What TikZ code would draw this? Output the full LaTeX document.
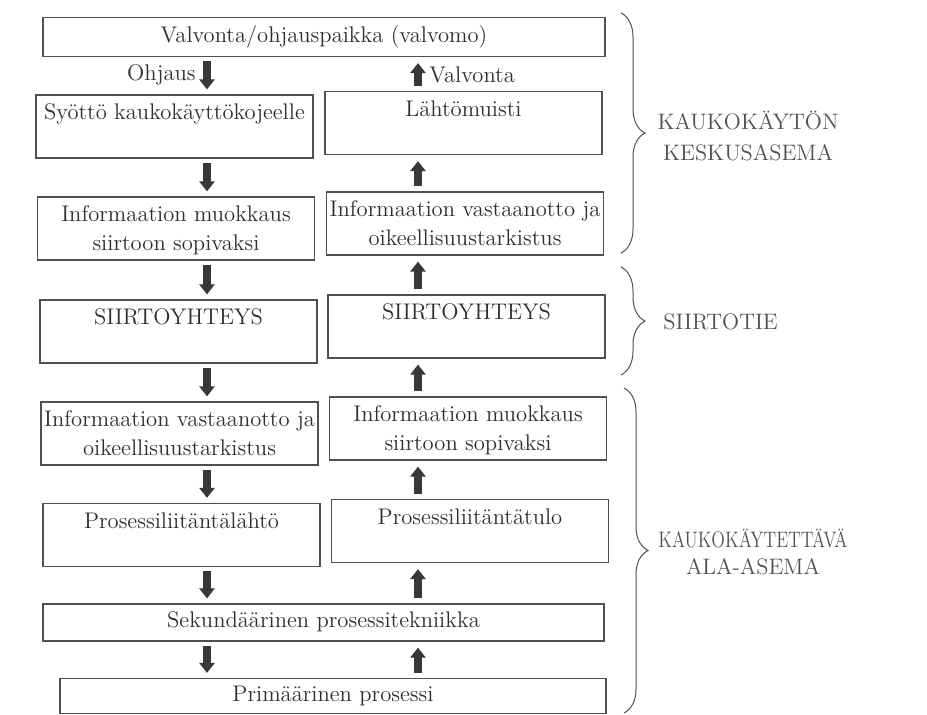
\documentclass[tikz,border=0pt]{standalone}
\usepackage{tikz}
\usepackage{graphicx}
\usetikzlibrary{arrows.meta,decorations.pathreplacing}
\definecolor{ink}{HTML}{2E2E2E}
\definecolor{frame}{HTML}{505050}
\definecolor{blockgray}{HTML}{383838}

\begin{document}
\begin{tikzpicture}[x=0.5pt,y=-0.5pt,
    box/.style={draw=frame, line width=0.6pt, minimum width=138.5pt, minimum height=31.5pt,
        inner sep=0pt, align=center, text=ink, text depth=-3pt, font=\fontsize{11.3}{14.5}\selectfont},
    widebox/.style={box, text depth=2.5pt, minimum height=19.5pt},
    lbl/.style={text=ink, font=\fontsize{11.3}{14.5}\selectfont, inner sep=0pt},
    grp/.style={text=frame, align=center, font=\fontsize{11.2}{15.5}\selectfont, inner sep=0pt},
    brace/.style={decorate, decoration={brace, amplitude=12pt}, draw=frame, line width=0.5pt},
    dnarrow/.style={draw=blockgray, line width=4pt, -{Triangle[length=5pt,width=7.5pt]},
        shorten <=2pt, shorten >=2.5pt},
    uparrow/.style={dnarrow, shorten <=2.5pt, shorten >=3pt}]
    \useasboundingbox (0,0) rectangle (927,714);
    \node[widebox, minimum width=281pt] (valvomo) at (324,37) {Valvonta/ohjauspaikka (valvomo)};
    % left column
    \node[box] (syotto) at (174.5,126.5) {Syöttö kaukokäyttökojeelle\\\mbox{}};
    \node[box] (muokkausA) at (176,228.5) {Informaation muokkaus\\siirtoon sopivaksi};
    \node[box] (siirtoA) at (178.5,331.5) {SIIRTOYHTEYS\\\mbox{}};
    \node[box] (vastA) at (179.5,433.5) {Informaation vastaanotto ja\\oikeellisuustarkistus};
    \node[box] (lahto) at (181.5,535) {Prosessiliitäntälähtö\\\mbox{}};
    % right column
    \node[box] (muisti) at (463.5,123) {Lähtömuisti\\\mbox{}};
    \node[box] (vastB) at (465,223.5) {Informaation vastaanotto ja\\oikeellisuustarkistus};
    \node[box] (siirtoB) at (466.5,326.5) {SIIRTOYHTEYS\\\mbox{}};
    \node[box] (muokkausB) at (468,428.5) {Informaation muokkaus\\siirtoon sopivaksi};
    \node[box] (tulo) at (470,531) {Prosessiliitäntätulo\\\mbox{}};
    \node[widebox, minimum width=280.5pt, minimum height=18.5pt] (sek) at (323.5,622.5) {Sekundäärinen prosessitekniikka};
    \node[widebox, minimum width=273pt, minimum height=17.5pt] (prim) at (333,696) {Primäärinen prosessi};

    \coordinate (dn) at (207,0);
    \coordinate (up) at (418,0);
    \foreach \a/\b in {valvomo/syotto, syotto/muokkausA, muokkausA/siirtoA, siirtoA/vastA,
        vastA/lahto, lahto/sek, sek/prim}
        \draw[dnarrow] (\a.south -| dn) -- (\b.north -| dn);
    \foreach \a/\b in {prim/sek, sek/tulo, tulo/muokkausB, muokkausB/siirtoB, siirtoB/vastB,
        vastB/muisti, muisti/valvomo}
        \draw[uparrow] (\a.north -| up) -- (\b.south -| up);
    \node[lbl, anchor=east] (ohjaus) at (196,75) {Ohjaus};
    \node[lbl, anchor=west] (valvonta) at (429,75) {Valvonta};

    \draw[brace] (621,13) -- (621,253);
    \draw[brace] (621,267) -- (621,375);
    \draw[brace] (624,388) -- (624,713);
    \node[grp] (keskus) at (748,136) {KAUKOKÄYTÖN\\KESKUSASEMA};
    \node[grp, anchor=west] (siirtotie) at (663,322) {SIIRTOTIE};
    \node[grp, font=\fontsize{11.2}{13.5}\selectfont] (alaasema) at (753,552) {\scalebox{0.8}[1]{KAUKOKÄYTETTÄVÄ}\\ALA-ASEMA};
\end{tikzpicture}
\end{document}
